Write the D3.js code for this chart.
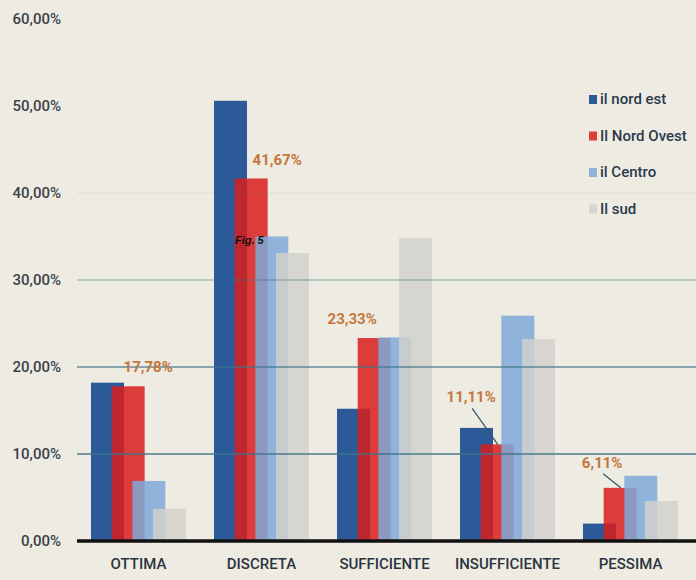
<!DOCTYPE html>
<html>
<head>
<meta charset="utf-8">
<script src="https://cdn.jsdelivr.net/npm/d3@7"></script>
<style>
  html, body { margin: 0; padding: 0; background: #eeece2; }
  svg { display: block; }
  text { font-family: "Roboto", "Open Sans", sans-serif; font-weight: 500; }
</style>
</head>
<body>
<svg id="chart" width="696" height="580"></svg>
<script>
// ---- data ----
const categories = ["OTTIMA", "DISCRETA", "SUFFICIENTE", "INSUFFICIENTE", "PESSIMA"];
const series = ["il nord est", "Il Nord Ovest", "il Centro", "Il sud"];
const nordEst   = [18.2, 50.6, 15.2, 13.0, 2.0];
const nordOvest = [17.78, 41.67, 23.33, 11.11, 6.11];
const centro    = [6.9, 35.0, 23.4, 25.9, 7.5];
const sud       = [3.7, 33.1, 34.8, 23.2, 4.6];
const yTicks = [0, 10, 20, 30, 40, 50, 60];
const annotated = [0, 1, 2, 3, 4]; // category indices labelled with the "Il Nord Ovest" value

// ---- layout / style ----
const W = 696, H = 580;
const colors = ["#2c5a98", "#d81e1c", "#7ea9d9", "#d1d1cc"];
const opac = [1, 0.85, 0.85, 0.85];
const svg = d3.select("#chart");
svg.append("rect").attr("width", W).attr("height", H).attr("fill", "#eeece2");

const y = d3.scaleLinear().domain([0, 60]).range([541, 19]);
const x = d3.scaleBand().domain(categories).range([77, 77 + 5 * 123]).padding(0);
const barW = 33;
const xs = d3.scalePoint().domain(series).range([0, 62]);
const groupLeft = c => x(c) + (x.bandwidth() - (62 + barW)) / 2;

const table = categories.map((c, i) => ({
  cat: c,
  vals: [nordEst[i], nordOvest[i], centro[i], sud[i]]
}));

// bars
const g = svg.append("g");
series.forEach((s, si) => {
  g.selectAll(".b" + si)
    .data(table)
    .enter().append("rect")
    .attr("x", d => groupLeft(d.cat) + xs(s))
    .attr("y", d => y(d.vals[si]))
    .attr("width", barW)
    .attr("height", d => y(0) - y(d.vals[si]))
    .attr("fill", colors[si])
    .attr("fill-opacity", opac[si]);
});

// gridlines (drawn over bars, faded)
const gridOpacity = v => ({10: 0.7, 20: 0.6, 30: 0.3, 40: 0.06}[v] || 0);
svg.append("g").selectAll("line")
  .data(yTicks.filter(v => v > 0))
  .enter().append("line")
  .attr("x1", 77).attr("x2", W)
  .attr("y1", d => y(d)).attr("y2", d => y(d))
  .attr("stroke", "#3f7588")
  .attr("stroke-width", 2)
  .attr("stroke-opacity", d => gridOpacity(d));

// baseline
svg.append("line")
  .attr("x1", 77).attr("x2", W)
  .attr("y1", y(0)).attr("y2", y(0))
  .attr("stroke", "#111").attr("stroke-width", 3.5);

// y axis labels
const fmt = v => d3.format(".2f")(v).replace(".", ",") + "%";
const yAxis = d3.axisLeft(y).tickValues(yTicks).tickFormat(fmt).tickSize(0).tickPadding(0);
const ya = svg.append("g").attr("transform", "translate(61,0)").call(yAxis);
ya.select(".domain").remove();
ya.selectAll("text")
  .attr("fill", "#3b4249")
  .style("font-size", "15px")
  .style("font-family", '"Roboto", sans-serif')
  .style("font-weight", "500");

// x axis labels
const xAxis = d3.axisBottom(x).tickSize(0).tickPadding(0);
const xa = svg.append("g").attr("transform", "translate(0,558)").call(xAxis);
xa.select(".domain").remove();
xa.selectAll("text")
  .attr("fill", "#2b3440")
  .style("font-size", "15px")
  .style("font-family", '"Roboto", sans-serif')
  .style("font-weight", "500");

// annotations (value of Il Nord Ovest)
const annLayout = [
  {dx: 20, dy: -19, line: false},
  {dx: 26, dy: -18, line: false},
  {dx: -22, dy: -19, line: false},
  {dx: -26, dy: -47, line: true},
  {dx: -18, dy: -25, line: true}
];
const ann = svg.append("g");
annotated.forEach((ci, k) => {
  const c = categories[ci];
  const v = nordOvest[ci];
  const left = groupLeft(c) + xs(series[1]);
  const bx = left + barW / 2;
  const by = y(v);
  const L = annLayout[k];
  if (L.line) {
    ann.append("line")
      .attr("x1", bx + L.dx + 1).attr("y1", by + L.dy + 11)
      .attr("x2", left + 17).attr("y2", by)
      .attr("stroke", "#35586a").attr("stroke-width", 1.3);
  }
  ann.append("text")
    .attr("x", bx + L.dx).attr("y", by + L.dy)
    .attr("text-anchor", "middle")
    .attr("dominant-baseline", "central")
    .attr("fill", "#c4763e")
    .style("font-size", "15px")
    .style("font-weight", "bold")
    .text(fmt(v));
});

// Fig. 5
svg.append("text")
  .attr("x", 235).attr("y", 244)
  .attr("fill", "#111")
  .style("font-family", '"Liberation Sans", Arial, sans-serif')
  .style("font-style", "italic")
  .style("font-weight", "bold")
  .style("font-size", "11px")
  .text("Fig. 5");

// legend
const lg = svg.append("g");
series.forEach((s, si) => {
  const cy = 99 + si * 36.5;
  lg.append("rect")
    .attr("x", 589).attr("y", cy - 4).attr("width", 8).attr("height", 9)
    .attr("fill", colors[si]).attr("fill-opacity", opac[si]);
  lg.append("text")
    .attr("x", 600).attr("y", cy)
    .attr("dominant-baseline", "central")
    .attr("fill", "#2a3a4c")
    .style("font-size", "15px")
    .text(s);
});
</script>
</body>
</html>
